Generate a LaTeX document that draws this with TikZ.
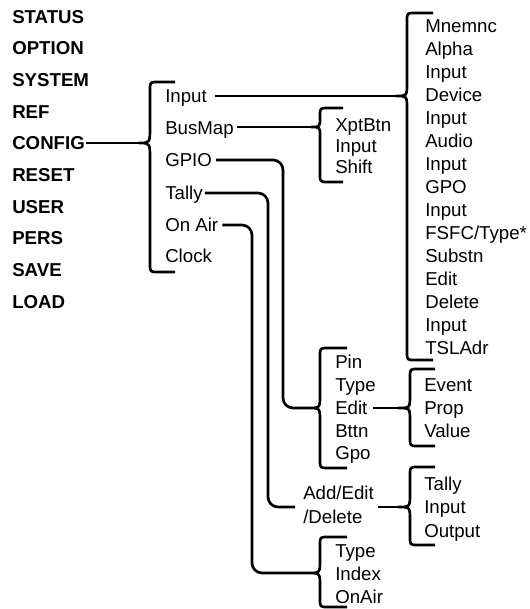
\documentclass[tikz,border=0pt]{standalone}
\usepackage{fontspec}
\setmainfont{Liberation Sans}
% brace: name, x of vertical, x of tip, y of tip, y top, y bottom, x of ends, tip curve length
\newcommand\mybrc[8]{%
  \coordinate (#1) at (#3,#4);
  \draw[ln] (#7,#5) -- ({#2+8},#5) .. controls (#2,#5) .. (#2,{#5+8})
    -- (#2,{#4-#8}) .. controls (#2,#4) .. (#1)
    .. controls (#2,#4) .. (#2,{#4+#8})
    -- (#2,{#6-8}) .. controls (#2,#6) .. ({#2+8},#6) -- (#7,#6);}
\begin{document}
\begin{tikzpicture}[x=0.75pt,y=-0.75pt,
  ln/.style={line width=2pt, line join=round},
  conn/.style={ln, rounded corners=7.5pt},
  t/.style={font=\fontsize{14}{18}\selectfont, inner sep=0pt, text height=13pt, text depth=3pt, anchor=west},
  b/.style={t, font=\fontsize{14}{18}\selectfont\bfseries}]
\useasboundingbox (0,0) rectangle (529,609);

% top menu
\node[b] (status) at (12,17) {STATUS};
\node[b] (option) at (12,48) {OPTION};
\node[b] (system) at (12,80) {SYSTEM};
\node[b] (ref)    at (12,112) {REF};
\node[b] (cfg)    at (12,143) {CONFIG};
\node[b] (reset)  at (12,175) {RESET};
\node[b] (user)   at (12,207) {USER};
\node[b] (pers)   at (12,238) {PERS};
\node[b] (save)   at (12,270) {SAVE};
\node[b] (load)   at (12,302) {LOAD};

% config submenu
\node[t] (inp)  at (165,96)  {Input};
\node[t] (bus)  at (165,128) {BusMap};
\node[t] (gpio) at (165,160) {GPIO};
\node[t] (tal)  at (165,193) {Tally};
\node[t] (oa)   at (165,225) {On Air};
\node[t] (clk)  at (165,256) {Clock};

% input list
\foreach \s [count=\k from 0] in {Mnemnc,Alpha,Input,Device,Input,Audio,Input,GPO,Input,FSFC/Type*,Substn,Edit,Delete,Input,TSLAdr}
  \node[t] (L\k) at (425,{26+23*\k}) {\s};

% busmap list
\node[t] (xpt)  at (335,125) {XptBtn};
\node[t] (binp) at (335,146) {Input};
\node[t] (shf)  at (335,167) {Shift};

% gpio list
\node[t] (pin)  at (335,362) {Pin};
\node[t] (gtyp) at (335,385) {Type};
\node[t] (edit) at (335,408) {Edit};
\node[t] (btn)  at (335,431) {Bttn};
\node[t] (gpo)  at (335,453) {Gpo};

% edit list
\node[t] (ev)  at (424,385) {Event};
\node[t] (pr)  at (424,408) {Prop};
\node[t] (val) at (424,431) {Value};

% tally
\node[font=\fontsize{14}{18}\selectfont, inner sep=0pt, align=left, anchor=north west] (adn) at (303,486) {Add/Edit\\/Delete};
\node[t] (tt)  at (424,484) {Tally};
\node[t] (ti)  at (424,507) {Input};
\node[t] (to)  at (424,531) {Output};

% on air
\node[t] (oty) at (335,551) {Type};
\node[t] (oix) at (335,574) {Index};
\node[t] (ooa) at (335,597) {OnAir};

% braces
\mybrc{cfgB}{150}{139}{143}{82}{272}{175}{16}
\mybrc{inB}{407}{396}{96}{13}{360}{433}{13}
\mybrc{busB}{320}{311}{127}{108}{182}{343}{9}
\mybrc{pinB}{320}{308}{408}{348}{468}{347}{13}
\mybrc{evB}{410}{398}{408}{369}{446}{435}{13}
\mybrc{tlB}{410}{398}{507}{467}{545}{435}{13}
\mybrc{tyB}{320}{308}{573}{537}{607}{347}{13}

\coordinate (adnL) at (295,507);
\coordinate (adnR) at ([xshift=3pt]adn.east |- tlB);

% connectors
\draw[ln] ([xshift=1pt]cfg.east) -- (cfgB);
\draw[ln] ([xshift=6pt]inp.east) -- (inB);
\draw[ln] ([xshift=2pt]bus.east |- busB) -- (busB);
\draw[conn] ([xshift=3pt]gpio.east) -- (283,160) -- (283,408) -- (pinB);
\draw[conn] ([xshift=1.5pt]tal.east) -- (268,193) -- (268,507) -- (adnL);
\draw[conn] ([xshift=3pt]oa.east) -- (252,225) -- (252,573) -- (tyB);
\draw[ln] ([xshift=4pt]edit.east) -- (evB);
\draw[ln] (adnR) -- (tlB);
\end{tikzpicture}
\end{document}
